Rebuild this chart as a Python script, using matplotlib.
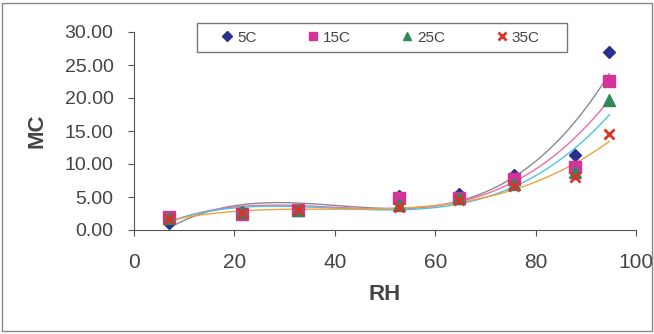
import numpy as np
import matplotlib.pyplot as plt
from matplotlib.patches import Rectangle

plt.rcParams['font.family'] = ['Liberation Sans', 'DejaVu Sans']

# relative humidity (%) and moisture content at each temperature
rh = [7.0, 21.6, 32.6, 52.8, 64.7, 75.7, 87.8, 94.7]
mc_5 = [1.1, 2.7, 3.1, 5.1, 5.4, 8.3, 11.3, 27.0]
mc_15 = [1.9, 2.5, 3.0, 4.8, 4.9, 7.8, 9.5, 22.6]
mc_25 = [1.75, 2.7, 3.1, 3.8, 4.8, 7.0, 8.8, 19.7]
mc_35 = [1.6, 2.6, 3.0, 3.5, 4.5, 6.7, 8.1, 14.6]
labels = ['5C', '15C', '25C', '35C']

series = [mc_5, mc_15, mc_25, mc_35]
markers = ['D', 's', '^', 'x']
mcolors = ['#2b2f8f', '#d4349a', '#2f8a5a', '#e0302a']
msizes = [6, 8, 8, 7]
lcolors = ['#8a8a8a', '#f06aa8', '#4ec3e0', '#f2a23a']

fig = plt.figure(figsize=(6.54, 3.34), dpi=100)
ax = fig.add_axes([134 / 654, 1 - 230 / 334, 502 / 654, 198 / 334])

# polynomial trendlines (3rd order)
xs = np.linspace(min(rh), max(rh), 200)
for y, lc in zip(series, lcolors):
    p = np.polyfit(rh, y, 3)
    ax.plot(xs, np.polyval(p, xs), color=lc, lw=1.0, zorder=2)

for y, m, c, s, lab in zip(series, markers, mcolors, msizes, labels):
    kw = dict(mew=2) if m == 'x' else dict(mec=c)
    ax.plot(rh, y, ls='none', marker=m, color=c, ms=s, label=lab, zorder=3, **kw)

ax.set_xlim(0, 100)
ax.set_ylim(0, 30)
ax.set_xticks(range(0, 101, 20))
ax.set_yticks(range(0, 31, 5))
ax.set_yticklabels(['%.2f' % v for v in range(0, 31, 5)])
for s in ['top', 'right']:
    ax.spines[s].set_visible(False)
for s in ['left', 'bottom']:
    ax.spines[s].set_color('#555555')
ax.tick_params(colors='#555555', labelcolor='#444444', length=4.3)
ax.tick_params(axis='y', labelsize=14, pad=10.5)
ax.tick_params(axis='x', labelsize=15, pad=12)
ax.set_xlabel('RH', fontsize=16, fontweight='bold', color='#444444', labelpad=9)
ax.set_ylabel('MC', fontsize=16, fontweight='bold', color='#444444', labelpad=12)

# legend entries without frame, box drawn separately
leg = ax.legend(ncol=4, loc='center', bbox_to_anchor=(380.8 / 654, 1 - 37.5 / 334),
                bbox_transform=fig.transFigure, fontsize=11, frameon=False,
                handlelength=0.7, handletextpad=0.3, columnspacing=3.35,
                borderpad=0, borderaxespad=0, markerscale=0.8)
for t in leg.get_texts():
    t.set_color('#444444')
fig.patches.append(Rectangle((197 / 654, 1 - 52 / 334), 370 / 654, 29 / 334,
                             transform=fig.transFigure, fill=False, ec='#777777', lw=1))

fig.patches.append(Rectangle((0.003, 0.01), 0.994, 0.98, transform=fig.transFigure,
                             fill=False, ec='#888888', lw=1))

fig.savefig('out.png', dpi=100)
